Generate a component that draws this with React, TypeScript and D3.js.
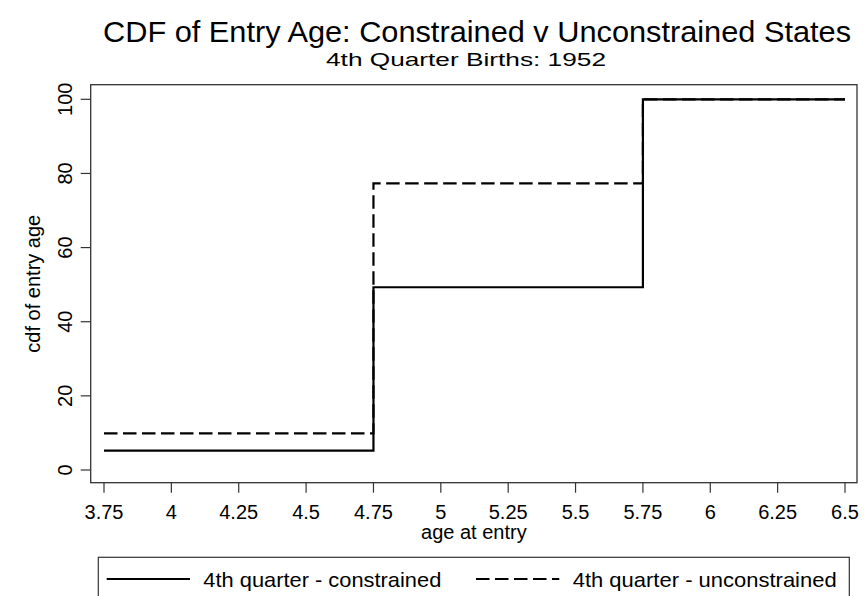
import React, { useEffect, useRef } from "react";
import * as d3 from "d3";

const ages = [3.75, 4.75, 5.75, 6.5];
const constrained = [5.2, 49.3, 100, 100];
const unconstrained = [9.9, 77.3, 100, 100];
const xTicks = [3.75, 4, 4.25, 4.5, 4.75, 5, 5.25, 5.5, 5.75, 6, 6.25, 6.5];
const yTicks = [0, 20, 40, 60, 80, 100];
const titleText = "CDF of Entry Age: Constrained v Unconstrained States";
const subtitleText = "4th Quarter Births: 1952";
const xTitle = "age at entry";
const yTitle = "cdf of entry age";
const seriesNames = ["4th quarter - constrained", "4th quarter - unconstrained"];

const W = 864;
const H = 596;
const FONT = "'Liberation Sans', Arial, Helvetica, sans-serif";

export default function App() {
  const ref = useRef<SVGSVGElement | null>(null);

  useEffect(() => {
    const svg = d3.select(ref.current);
    svg.selectAll("*").remove();

    const frame = { left: 90.7, right: 857, top: 84.7, bottom: 482.7 };
    const x = d3.scaleLinear().domain([3.75, 6.5]).range([104, 845]);
    const y = d3.scaleLinear().domain([0, 100]).range([470, 99.3]);

    svg.append("rect").attr("width", W).attr("height", H).attr("fill", "#fff");

    // title
    svg.append("text")
      .attr("x", 477).attr("y", 42)
      .attr("text-anchor", "middle")
      .attr("font-family", FONT).attr("font-size", 30)
      .attr("textLength", 748).attr("lengthAdjust", "spacingAndGlyphs")
      .text(titleText);
    svg.append("text")
      .attr("x", 466).attr("y", 65.5)
      .attr("text-anchor", "middle")
      .attr("font-family", FONT).attr("font-size", 18.5)
      .attr("textLength", 280).attr("lengthAdjust", "spacingAndGlyphs")
      .text(subtitleText);

    // frame
    svg.append("rect")
      .attr("x", frame.left).attr("y", frame.top)
      .attr("width", frame.right - frame.left).attr("height", frame.bottom - frame.top)
      .attr("fill", "none").attr("stroke", "#333").attr("stroke-width", 1.3);

    // y axis
    const gy = svg.append("g");
    yTicks.forEach((t) => {
      gy.append("line")
        .attr("x1", frame.left - 10).attr("x2", frame.left)
        .attr("y1", y(t)).attr("y2", y(t))
        .attr("stroke", "#333").attr("stroke-width", 1.2);
      gy.append("text")
        .attr("transform", `translate(72,${y(t)}) rotate(-90)`)
        .attr("text-anchor", "middle")
        .attr("font-family", FONT).attr("font-size", 20)
        .text(String(t));
    });
    svg.append("text")
      .attr("transform", `translate(40,${(frame.top + frame.bottom) / 2}) rotate(-90)`)
      .attr("text-anchor", "middle")
      .attr("font-family", FONT).attr("font-size", 20)
      .text(yTitle);

    // x axis
    const gx = svg.append("g");
    xTicks.forEach((t) => {
      gx.append("line")
        .attr("x1", x(t)).attr("x2", x(t))
        .attr("y1", frame.bottom).attr("y2", frame.bottom + 10)
        .attr("stroke", "#333").attr("stroke-width", 1.2);
      gx.append("text")
        .attr("x", x(t)).attr("y", 519)
        .attr("text-anchor", "middle")
        .attr("font-family", FONT).attr("font-size", 20)
        .text(String(t));
    });
    svg.append("text")
      .attr("x", (frame.left + frame.right) / 2).attr("y", 539)
      .attr("text-anchor", "middle")
      .attr("font-family", FONT).attr("font-size", 20)
      .text(xTitle);

    // lines
    const line = d3.line<[number, number]>()
      .x((d) => x(d[0])).y((d) => y(d[1]))
      .curve(d3.curveStepAfter);
    const series = [
      { vals: constrained, dash: null as string | null },
      { vals: unconstrained, dash: "13.5 5.5" },
    ];
    series.forEach((s) => {
      const pts: [number, number][] = ages.map((a, i) => [a, s.vals[i]]);
      const p = svg.append("path")
        .attr("d", line(pts) || "")
        .attr("fill", "none").attr("stroke", "#000").attr("stroke-width", 2.2);
      if (s.dash) p.attr("stroke-dasharray", s.dash);
    });

    // legend
    const lg = svg.append("g");
    lg.append("rect")
      .attr("x", 98.3).attr("y", 557.3)
      .attr("width", 849.3 - 98.3).attr("height", 60)
      .attr("fill", "#fff").attr("stroke", "#333").attr("stroke-width", 1.2);
    const entries = [
      { x0: 106.7, tx: 203.3, len: 238, dash: null as string | null, name: seriesNames[0] },
      { x0: 476, tx: 572.7, len: 264, dash: "13.5 5.5", name: seriesNames[1] },
    ];
    entries.forEach((e) => {
      const l = lg.append("line")
        .attr("x1", e.x0).attr("x2", e.x0 + 83.3)
        .attr("y1", 579).attr("y2", 579)
        .attr("stroke", "#000").attr("stroke-width", 2.2);
      if (e.dash) l.attr("stroke-dasharray", e.dash);
      lg.append("text")
        .attr("x", e.tx).attr("y", 586.5)
        .attr("font-family", FONT).attr("font-size", 21)
        .attr("textLength", e.len).attr("lengthAdjust", "spacingAndGlyphs")
        .text(e.name);
    });
  }, []);

  return (
    <svg ref={ref} width={W} height={H} style={{ display: "block", position: "absolute", left: 0, top: 0 }} />
  );
}
